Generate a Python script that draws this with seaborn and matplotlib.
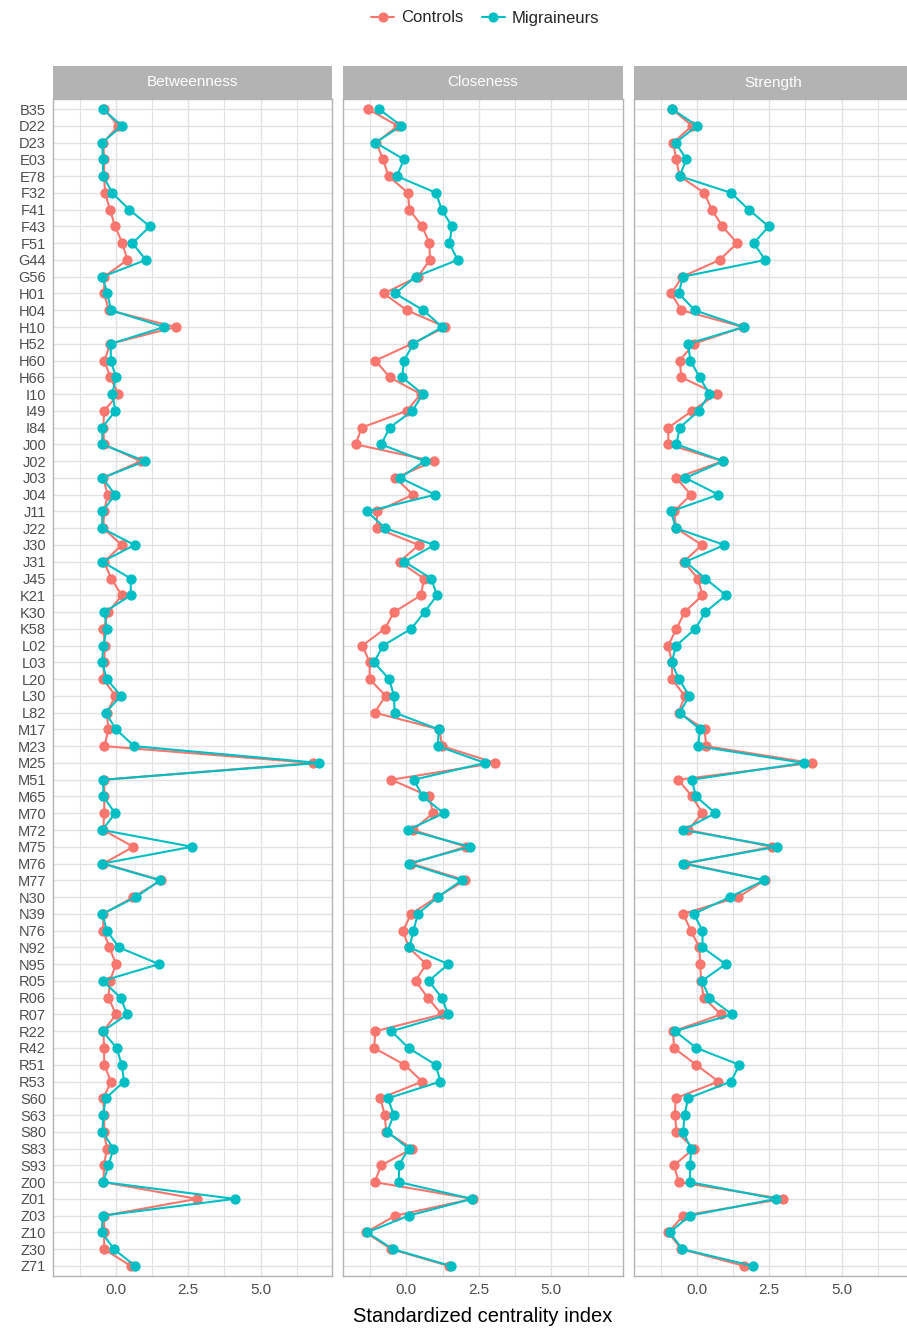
import numpy as np
import pandas as pd
import matplotlib
matplotlib.use("Agg")
import matplotlib.pyplot as plt
from matplotlib.lines import Line2D
from matplotlib.ticker import FixedLocator
import seaborn as sns

# ICD-10 codes (top to bottom)
codes = ["B35", "D22", "D23", "E03", "E78", "F32", "F41", "F43", "F51", "G44",
         "G56", "H01", "H04", "H10", "H52", "H60", "H66", "I10", "I49", "I84",
         "J00", "J02", "J03", "J04", "J11", "J22", "J30", "J31", "J45", "K21",
         "K30", "K58", "L02", "L03", "L20", "L30", "L82", "M17", "M23", "M25",
         "M51", "M65", "M70", "M72", "M75", "M76", "M77", "N30", "N39", "N76",
         "N92", "N95", "R05", "R06", "R07", "R22", "R42", "R51", "R53", "S60",
         "S63", "S80", "S83", "S93", "Z00", "Z01", "Z03", "Z10", "Z30", "Z71"]

groups = ["Controls", "Migraineurs"]
measures = ["Betweenness", "Closeness", "Strength"]

betweenness_controls = [
    -0.41, 0.08, -0.44, -0.41, -0.41, -0.38, -0.21, -0.03, 0.22, 0.39,
    -0.41, -0.41, -0.25, 2.06, -0.20, -0.40, -0.20, 0.08, -0.41, -0.44,
    -0.41, 0.85, -0.44, -0.29, -0.41, -0.44, 0.20, -0.41, -0.17, 0.20,
    -0.26, -0.44, -0.38, -0.41, -0.44, -0.02, -0.32, -0.26, -0.40, 6.80,
    -0.41, -0.40, -0.41, -0.44, 0.60, -0.44, 1.57, 0.60, -0.44, -0.44,
    -0.23, 0.00, -0.21, -0.26, 0.00, -0.44, -0.41, -0.41, -0.17, -0.44,
    -0.41, -0.41, -0.32, -0.41, -0.44, 2.80, -0.41, -0.41, -0.41, 0.51]
betweenness_migraineurs = [
    -0.46, 0.20, -0.47, -0.46, -0.44, -0.13, 0.46, 1.17, 0.57, 1.03,
    -0.47, -0.30, -0.17, 1.67, -0.18, -0.18, 0.00, -0.13, -0.02, -0.48,
    -0.47, 1.00, -0.47, -0.03, -0.47, -0.48, 0.64, -0.47, 0.51, 0.51,
    -0.40, -0.32, -0.44, -0.48, -0.32, 0.17, -0.36, 0.00, 0.63, 7.03,
    -0.44, -0.44, -0.03, -0.47, 2.63, -0.47, 1.52, 0.69, -0.47, -0.32,
    0.10, 1.49, -0.46, 0.16, 0.39, -0.46, 0.02, 0.20, 0.28, -0.36,
    -0.44, -0.47, -0.09, -0.26, -0.44, 4.10, -0.46, -0.49, -0.07, 0.66]

closeness_controls = [
    -1.32, -0.29, -1.03, -0.80, -0.61, 0.06, 0.11, 0.55, 0.80, 0.82,
    0.40, -0.77, 0.02, 1.35, 0.19, -1.06, -0.57, 0.50, 0.02, -1.54,
    -1.74, 0.94, -0.37, 0.23, -1.01, -1.01, 0.43, -0.23, 0.61, 0.51,
    -0.42, -0.74, -1.51, -1.26, -1.26, -0.71, -1.09, 1.14, 1.24, 3.07,
    -0.51, 0.80, 0.92, 0.23, 2.06, 0.17, 2.03, 1.06, 0.17, -0.11,
    0.08, 0.69, 0.32, 0.74, 1.22, -1.06, -1.11, -0.06, 0.55, -0.89,
    -0.74, -0.69, 0.21, -0.86, -1.09, 2.29, -0.37, -1.40, -0.51, 1.46]
closeness_migraineurs = [
    -0.94, -0.17, -1.06, -0.08, -0.32, 1.03, 1.22, 1.58, 1.49, 1.77,
    0.32, -0.38, 0.59, 1.24, 0.25, -0.08, -0.14, 0.57, 0.21, -0.57,
    -0.86, 0.63, -0.21, 1.00, -1.35, -0.72, 0.97, -0.06, 0.86, 1.06,
    0.63, 0.17, -0.80, -1.11, -0.59, -0.42, -0.40, 1.12, 1.09, 2.72,
    0.26, 0.57, 1.29, 0.06, 2.20, 0.08, 1.91, 1.09, 0.40, 0.25,
    0.11, 1.45, 0.78, 1.22, 1.45, -0.51, 0.08, 1.01, 1.18, -0.63,
    -0.43, -0.65, 0.08, -0.25, -0.25, 2.27, 0.09, -1.35, -0.46, 1.54]

strength_controls = [
    -0.86, -0.17, -0.82, -0.72, -0.60, 0.25, 0.51, 0.88, 1.39, 0.78,
    -0.51, -0.89, -0.54, 1.60, -0.11, -0.60, -0.54, 0.68, -0.17, -0.99,
    -0.99, 0.89, -0.72, -0.21, -0.80, -0.72, 0.17, -0.46, 0.03, 0.19,
    -0.43, -0.71, -1.00, -0.86, -0.86, -0.43, -0.63, 0.26, 0.32, 3.96,
    -0.65, -0.17, 0.19, -0.31, 2.60, -0.40, 2.34, 1.43, -0.48, -0.21,
    0.08, 0.11, 0.14, 0.23, 0.83, -0.82, -0.80, -0.03, 0.74, -0.74,
    -0.76, -0.71, -0.11, -0.80, -0.63, 2.97, -0.48, -0.99, -0.54, 1.63]
strength_migraineurs = [
    -0.86, 0.00, -0.74, -0.37, -0.60, 1.18, 1.79, 2.48, 1.96, 2.36,
    -0.49, -0.63, -0.08, 1.62, -0.31, -0.23, 0.09, 0.43, 0.06, -0.60,
    -0.71, 0.91, -0.40, 0.74, -0.91, -0.72, 0.95, -0.40, 0.29, 1.00,
    0.29, -0.06, -0.72, -0.88, -0.63, -0.26, -0.60, 0.11, 0.03, 3.69,
    -0.19, -0.03, 0.63, -0.48, 2.76, -0.49, 2.32, 1.14, -0.11, 0.19,
    0.19, 0.99, 0.17, 0.43, 1.22, -0.76, -0.02, 1.46, 1.18, -0.31,
    -0.43, -0.48, -0.21, -0.23, -0.25, 2.74, -0.25, -0.94, -0.51, 1.94]

series = {
    "Betweenness": (betweenness_controls, betweenness_migraineurs),
    "Closeness": (closeness_controls, closeness_migraineurs),
    "Strength": (strength_controls, strength_migraineurs),
}

palette = {"Controls": "#F8766D", "Migraineurs": "#00BFC4"}

# long-format table
rows = []
for m, (ctrl, mig) in series.items():
    for g, vals in zip(groups, (ctrl, mig)):
        for c, v in zip(codes, vals):
            rows.append({"measure": m, "group": g, "code": c, "value": v})
df = pd.DataFrame(rows)

sns.set_theme(style="white")
plt.rcParams["font.family"] = ["Liberation Sans", "DejaVu Sans"]

W, H = 907, 1329
fig = plt.figure(figsize=(W / 100, H / 100), dpi=100)


def rect(x0, y0, x1, y1):
    return [x0 / W, 1 - y1 / H, (x1 - x0) / W, (y1 - y0) / H]


panel_x = [(53, 332), (343, 623), (634, 913)]
panel_top, panel_bottom = 99, 1276
strip_top = 66

grid_col = "#E2E2E2"
border_col = "#B3B3B3"
text_col = "#4D4D4D"
line_w = 1.5
mark_s = 6.3

lo, hi = df["value"].min(), df["value"].max()
pad = 0.05 * (hi - lo)
n = len(codes)

for i, (m, (x0, x1)) in enumerate(zip(measures, panel_x)):
    ax = fig.add_axes(rect(x0, panel_top, x1, panel_bottom))
    sub = df[df["measure"] == m]
    sns.pointplot(data=sub, x="value", y="code", hue="group", order=codes,
                  hue_order=groups, palette=palette, orient="h",
                  markers="o", linestyles="-", errorbar=None,
                  markersize=mark_s, linewidth=line_w, legend=False, ax=ax)
    ax.set_xlim(lo - pad, hi + pad)
    ax.set_ylim(n - 1 + 0.6, -0.6)
    ax.set_xlabel("")
    ax.set_ylabel("")

    # grid
    ax.xaxis.set_major_locator(FixedLocator([0.0, 2.5, 5.0]))
    ax.xaxis.set_minor_locator(FixedLocator([-1.25, 1.25, 3.75, 6.25]))
    ax.set_xticklabels(["0.0", "2.5", "5.0"])
    ax.grid(True, which="major", axis="both", color=grid_col, linewidth=1.0)
    ax.grid(True, which="minor", axis="x", color=grid_col, linewidth=0.8)
    ax.set_axisbelow(True)
    ax.set_facecolor("white")
    for sp in ax.spines.values():
        sp.set_visible(True)
        sp.set_color(border_col)
        sp.set_linewidth(1.0)

    ax.tick_params(axis="x", which="major", length=3, width=0.8,
                   color=border_col, labelsize=11, labelcolor=text_col, pad=2)
    ax.tick_params(axis="x", which="minor", length=0)
    if i == 0:
        ax.tick_params(axis="y", length=3, width=0.8, color=border_col,
                       labelsize=10.5, labelcolor=text_col, pad=2)
    else:
        ax.tick_params(axis="y", length=0, labelleft=False)

    # facet strip
    sax = fig.add_axes(rect(x0, strip_top, x1, panel_top))
    sax.set_facecolor(border_col)
    sax.set_xticks([])
    sax.set_yticks([])
    for sp in sax.spines.values():
        sp.set_visible(False)
    sax.text(0.5, 0.5, m, color="white", fontsize=11,
             ha="center", va="center", transform=sax.transAxes)

# legend
handles = [Line2D([0], [0], color=palette[g], marker="o", markersize=mark_s,
                  linewidth=line_w) for g in groups]
fig.legend(handles, groups, loc="center", bbox_to_anchor=(485 / W, 1 - 18 / H),
           ncol=2, frameon=False, fontsize=12, handlelength=1.4,
           handletextpad=0.4, columnspacing=1.1)

fig.text(483 / W, 1 - 1316 / H, "Standardized centrality index",
         ha="center", va="center", fontsize=14.5, color="black")

fig.savefig("out.png", dpi=100)
